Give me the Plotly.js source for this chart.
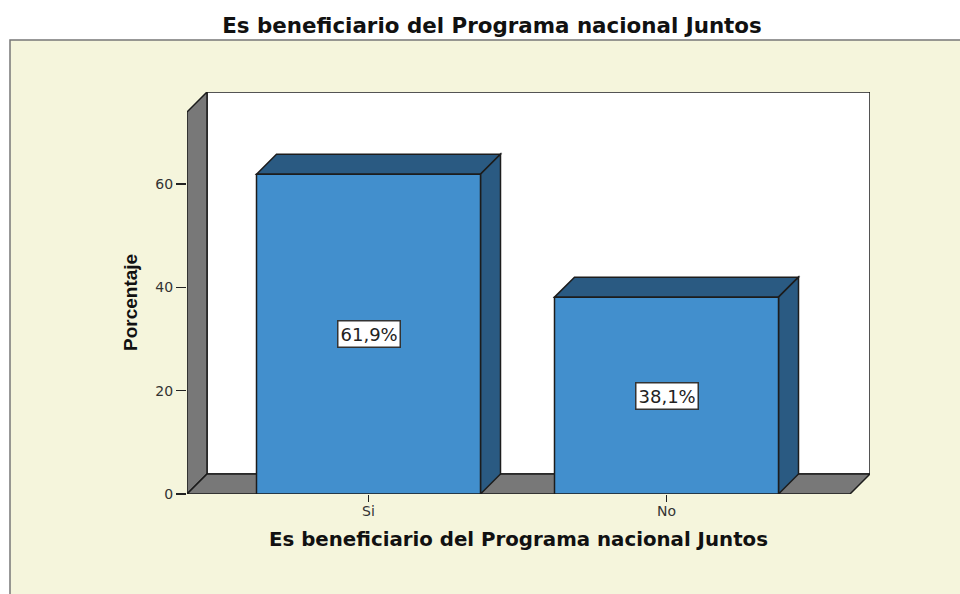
<!DOCTYPE html>
<html><head><meta charset="utf-8">
<script src="https://cdn.plot.ly/plotly-3.0.1.min.js"></script>
<style>html,body{margin:0;padding:0;background:#fff}#c{width:960px;height:594px}</style>
</head><body><div id="c"></div>
<script>
const categories = ["Si", "No"];
const positions = [0, 1];
const percentages = [61.9, 38.1];
const barLabels = ["61,9%", "38,1%"];
const yTicks = [0, 20, 40, 60];
const chartTitle = "Es beneficiario del Programa nacional Juntos";
const yTitle = "Porcentaje";

const W = 960, H = 594;
const left = 187, right = 870, top_ = 92, bottom = 494;
const pxPerCat = 298, pxPerUnit = 5.167, depth = 20;
const barW = 224 / pxPerCat;
const x0 = 368.5;
const xRange = [(left - x0) / pxPerCat, (right - x0) / pxPerCat];
const yRange = [0, (bottom - top_) / pxPerUnit];
const dx = depth / pxPerCat, dy = depth / pxPerUnit;
const xEnd = xRange[1], yEnd = yRange[1];
const paperX = px => (px - left) / (right - left);
const paperY = py => (bottom - py) / (bottom - top_);

const edge = {color: "#1c1c1c", width: 1.5};
const grey = "#787878", dark = "#2a5a82", blue = "#428fcd";
function poly(pts, fill) {
  return {type: "path", xref: "x", yref: "y", layer: "below", fillcolor: fill, line: edge,
    path: "M" + pts.map(p => p[0] + "," + p[1]).join("L") + "Z"};
}
const xa = xRange[0];
const shapes = [
  {type: "rect", xref: "paper", yref: "paper", layer: "below",
   x0: paperX(10), x1: paperX(W + 5), y0: paperY(H + 5), y1: paperY(40),
   fillcolor: "#f5f5dc", line: {color: "#777", width: 1.5}},
  poly([[xa + dx, dy], [xEnd, dy], [xEnd, yEnd], [xa + dx, yEnd]], "#ffffff"),
  poly([[xa, 0], [xa + dx, dy], [xa + dx, yEnd], [xa, yEnd - dy]], grey),
  poly([[xa, 0], [xEnd - dx, 0], [xEnd, dy], [xa + dx, dy]], grey)
];
positions.forEach((p, i) => {
  const v = percentages[i], l = p - barW / 2, r = p + barW / 2;
  shapes.push(poly([[l, v], [l + dx, v + dy], [r + dx, v + dy], [r, v]], dark));
  shapes.push(poly([[r, 0], [r + dx, dy], [r + dx, v + dy], [r, v]], dark));
});

const annotations = positions.map((p, i) => ({
  x: p, y: percentages[i] / 2, xref: "x", yref: "y", text: barLabels[i], showarrow: false,
  xanchor: "center", yanchor: "middle",
  bgcolor: "#ffffff", bordercolor: "#333", borderwidth: 1.5, borderpad: 2,
  font: {family: "DejaVu Sans", size: 18, color: "#222"}
})).concat([
  {xref: "paper", yref: "paper", x: paperX(518), y: paperY(539), showarrow: false,
   xanchor: "center", yanchor: "middle",
   text: "<b>" + chartTitle + "</b>", font: {family: "DejaVu Sans", size: 19.8, color: "#111"}},
  {xref: "paper", yref: "paper", x: paperX(130), y: paperY(303), showarrow: false, textangle: -90,
   xanchor: "center", yanchor: "middle",
   text: "<b>" + yTitle + "</b>", font: {family: "Liberation Sans", size: 19, color: "#111"}}
]);

Plotly.newPlot("c", [{
  type: "bar", x: positions, y: percentages, width: barW,
  marker: {color: blue, line: {color: "#1c1c1c", width: 1.5}},
  hoverinfo: "skip"
}], {
  width: W, height: H, showlegend: false,
  margin: {l: left, r: W - right, t: top_, b: H - bottom, pad: 0},
  paper_bgcolor: "#ffffff", plot_bgcolor: "rgba(0,0,0,0)",
  title: {text: "<b>" + chartTitle + "</b>", x: 492 / W, xanchor: "center", y: 1 - 26 / H, yanchor: "middle",
          font: {family: "DejaVu Sans", size: 21.4, color: "#111"}},
  xaxis: {range: xRange, tickmode: "array", tickvals: positions, ticktext: categories,
          ticks: "outside", ticklen: 7, tickcolor: "#222", tickwidth: 1.5, showgrid: false, zeroline: false, showline: false,
          ticklabelstandoff: -3,
          tickfont: {family: "DejaVu Sans", size: 14, color: "#333"}},
  yaxis: {range: yRange, tickmode: "array", tickvals: yTicks,
          ticks: "outside", ticklen: 10, tickcolor: "#222", tickwidth: 1.5, showgrid: false, zeroline: false, showline: false,
          tickfont: {family: "DejaVu Sans", size: 14, color: "#333"}},
  shapes, annotations, bargap: 0
}, {staticPlot: true, displayModeBar: false});
</script></body></html>
